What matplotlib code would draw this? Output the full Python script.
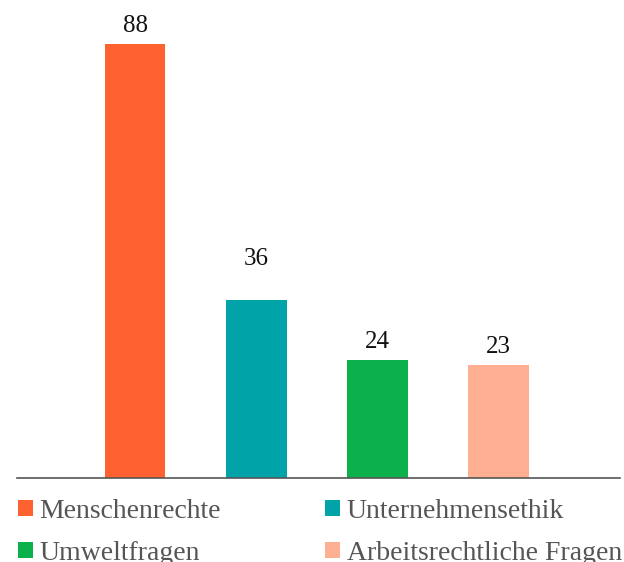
import matplotlib.pyplot as plt
from matplotlib.patches import Patch
from matplotlib.transforms import offset_copy

categories = ['Menschenrechte', 'Unternehmensethik', 'Umweltfragen', 'Arbeitsrechtliche Fragen']
values = [88, 36, 24, 23]
colors = ['#FF6131', '#00A3A8', '#0DB14B', '#FFAF91']
label_gap_px = [12, 35, 12, 12]  # gap between bar top and value label

plt.rcParams['font.family'] = ['Liberation Serif', 'DejaVu Serif']

fig = plt.figure(figsize=(6.24, 5.62), dpi=100)
ax = fig.add_axes([17 / 624, 1 - 478 / 562, 603 / 624, 478 / 562])

x = list(range(len(values)))
ax.bar(x, values, width=0.5, color=colors)
for xi, v, gap in zip(x, values, label_gap_px):
    tr = offset_copy(ax.transData, fig=fig, x=0, y=gap * 72 / 100, units='points')
    ax.text(xi, v, str(v), transform=tr, ha='center', va='baseline',
            fontsize=18, color='#111111')

ax.set_xlim(-0.974, 4.0)
ax.set_ylim(0, 88 * 478 / 434)
for s in ['top', 'right', 'left']:
    ax.spines[s].set_visible(False)
ax.spines['bottom'].set_color('#555555')
ax.spines['bottom'].set_linewidth(1.2)
ax.set_xticks([])
ax.set_yticks([])

handles = [Patch(facecolor=c, edgecolor='none') for c in colors]
# column 1 = Menschenrechte, Umweltfragen
order = [0, 2, 1, 3]
leg = fig.legend([handles[i] for i in order], [categories[i] for i in order],
                 loc='upper left', bbox_to_anchor=(0.029, 0.112), ncol=2,
                 frameon=False, fontsize=20, handlelength=0.52, handleheight=0.52,
                 handletextpad=0.25, columnspacing=3.75, labelspacing=0.6,
                 borderaxespad=0, borderpad=0)
for t in leg.get_texts():
    t.set_color('#555555')

fig.savefig('out.png', dpi=100)
